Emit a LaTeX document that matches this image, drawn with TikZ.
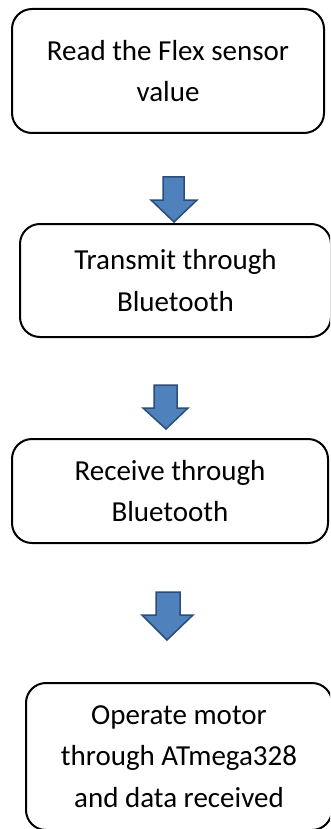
\documentclass[tikz,border=0pt]{standalone}
\usepackage{fontspec}
\setmainfont{Carlito}
\definecolor{arrowfill}{HTML}{4F81BD}
\definecolor{arrowline}{HTML}{2C4D75}
\tikzset{
  stepbox/.style={draw=black, line width=2pt, rounded corners=20pt, align=center,
    inner sep=0pt, font=\fontsize{29}{41.5}\selectfont},
  blockarrow/.style={fill=arrowfill, draw=arrowline, line width=1.5pt, line join=miter}
}
\begin{document}
\begin{tikzpicture}[x=1pt,y=-1pt]
\clip (0,0) rectangle (330,829);
\fill[white] (0,0) rectangle (330,829);
\node[stepbox, minimum width=312pt, minimum height=124pt] (b1) at (168,71) {Read the Flex sensor\\value};
\node[stepbox, minimum width=311pt, minimum height=113pt] (b2) at (175.5,280.5) {Transmit through\\Bluetooth};
\node[stepbox, minimum width=316pt, minimum height=104pt] (b3) at (170,491) {Receive through\\Bluetooth};
\node[stepbox, minimum width=306pt, minimum height=147pt] (b4) at (179,756.5) {Operate motor\\through ATmega328\\and data received};
% block arrows
\coordinate (t1) at (174,222);
\coordinate (t2) at (166,429);
\coordinate (t3) at (167,640);
\draw[blockarrow] (163,177) -- (184,177) -- (184,200) -- (197,200) -- (t1) -- (151,200) -- (163,200) -- cycle;
\draw[blockarrow] (154,385) -- (177,385) -- (177,408) -- (188,408) -- (t2) -- (143,408) -- (154,408) -- cycle;
\draw[blockarrow] (156,592) -- (180,592) -- (180,615) -- (193,615) -- (t3) -- (142,615) -- (156,615) -- cycle;
\end{tikzpicture}
\end{document}
